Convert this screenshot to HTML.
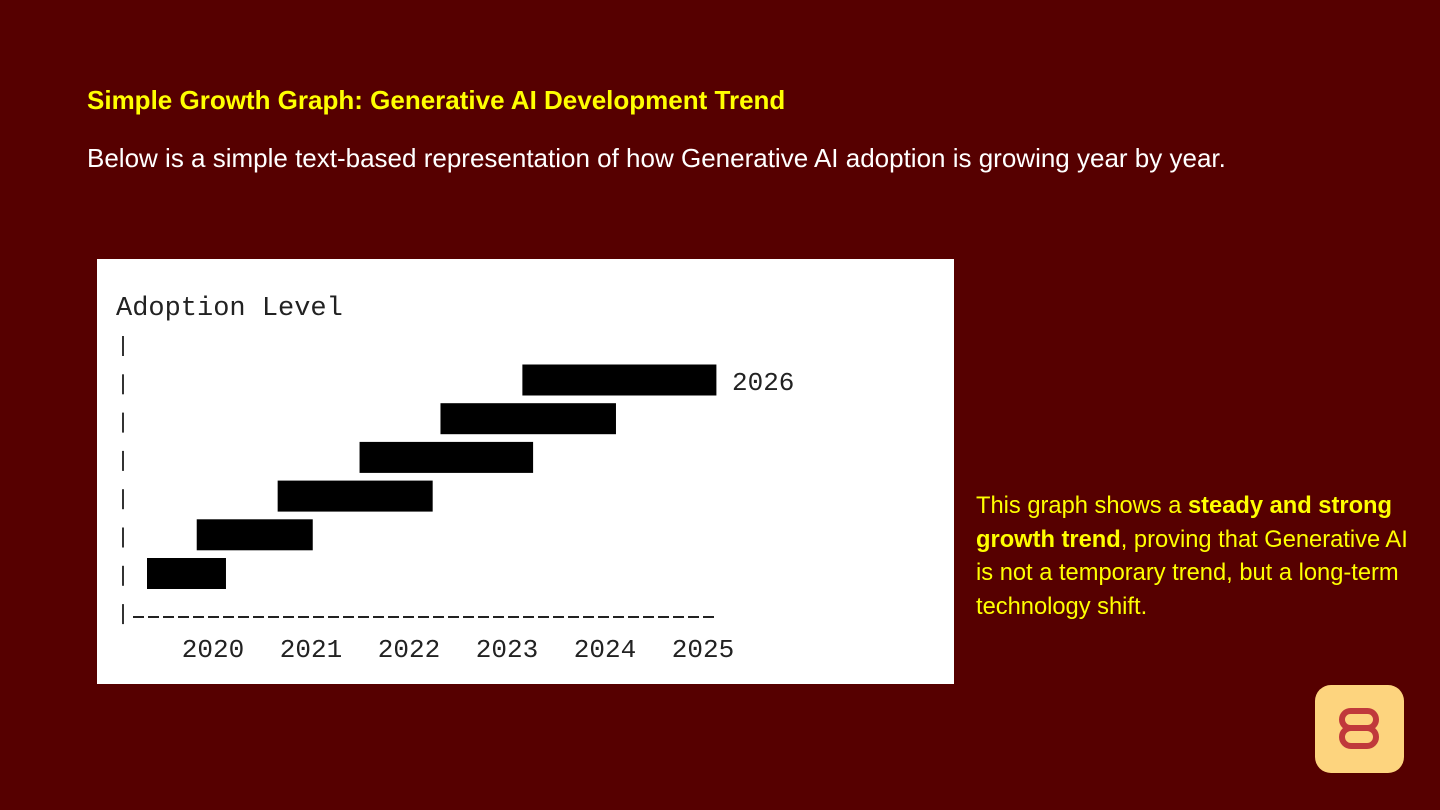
<!DOCTYPE html>
<html><head><meta charset="utf-8"><style>
body{margin:0;width:1440px;height:810px;background:#560000;position:relative;overflow:hidden;font-family:"Liberation Sans",sans-serif}
.t{position:absolute;left:87px;top:85px;color:#ffff00;font-weight:bold;font-size:26px}
.s{position:absolute;left:87px;top:143px;color:#fff;font-size:26px}
.card{position:absolute;left:97px;top:259px;width:857px;height:425px;background:#fff}
.note{position:absolute;left:976px;top:490px;width:442px;color:#ffff00;font-size:23.7px;line-height:33.5px}
.logo{position:absolute;left:1315px;top:685px;width:89px;height:88px;border-radius:16px;background:#fdd47e}
</style></head><body>
<div class="t">Simple Growth Graph: Generative AI Development Trend</div>
<div class="s">Below is a simple text-based representation of how Generative AI adoption is growing year by year.</div>
<svg class="card" width="857" height="425" viewBox="97 259 857 425" xmlns="http://www.w3.org/2000/svg">
<text x="116" y="315" font-family="Liberation Mono,monospace" font-size="27" fill="#222">Adoption Level</text>
<g id="axis"></g>
<line x1="133" y1="617" x2="718" y2="617" stroke="#222" stroke-width="2" stroke-dasharray="11,4"/>
<g id="bars"></g>
<g id="ticks"></g>
<text x="732" y="390" font-family="Liberation Mono,monospace" font-size="26" fill="#222">2026</text>
</svg>
<div class="note">This graph shows a <b>steady and strong growth trend</b>, proving that Generative AI is not a temporary trend, but a long-term technology shift.</div>
<div class="logo"><svg width="89" height="88"><rect x="27" y="26" width="34" height="17" rx="8.5" fill="none" stroke="#c0393b" stroke-width="6"/><rect x="27" y="43" width="34" height="18" rx="9" fill="none" stroke="#c0393b" stroke-width="6"/></svg></div>
<script>
const categories=["2020","2021","2022","2023","2024","2025"];
const barStart=[0,2.55,6.7,10.9,15.05,19.25];
const barLength=[4.05,5.95,7.95,8.9,9.0,9.95];
const ns="http://www.w3.org/2000/svg";
const xs=v=>147+v*19.5;
const ys=i=>558-i*38.7;
const bars=document.getElementById('bars');
categories.forEach((c,i)=>{
 const r=document.createElementNS(ns,'rect');
 r.setAttribute('x',xs(barStart[i]));r.setAttribute('y',ys(i));
 r.setAttribute('width',barLength[i]*19.5);r.setAttribute('height',31);r.setAttribute('fill','#000');
 
 
 bars.appendChild(r);
 const t=document.createElementNS(ns,'text');
 t.setAttribute('x',213+i*98);t.setAttribute('y',657);t.setAttribute('text-anchor','middle');
 t.setAttribute('font-family','Liberation Mono,monospace');t.setAttribute('font-size','26');t.setAttribute('fill','#222');
 t.textContent=c;
 
 
 document.getElementById('ticks').appendChild(t);
});
const ax=document.getElementById('axis');
for(let k=0;k<8;k++){
 const l=document.createElementNS(ns,'line');
 const y=336+k*38.3;
 l.setAttribute('x1',123);l.setAttribute('x2',123);l.setAttribute('y1',y);l.setAttribute('y2',y+20);
 l.setAttribute('stroke','#333');l.setAttribute('stroke-width','2');
 
 
 ax.appendChild(l);
}
</script>
</body></html>
